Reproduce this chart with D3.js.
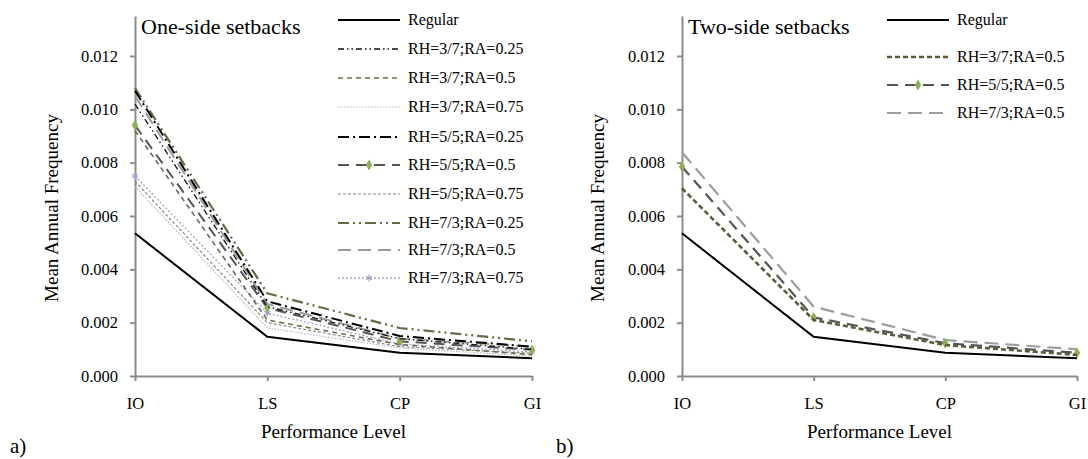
<!DOCTYPE html>
<html>
<head>
<meta charset="utf-8">
<script src="https://cdn.jsdelivr.net/npm/d3@7"></script>
<style>
  body { margin: 0; background: #fff; }
  svg text { font-family: "Liberation Serif", "Times New Roman", serif !important; fill: #000; }
  .axis path, .axis line { stroke: #8c8c8c; stroke-width: 2; }
  .axis text { font-size: 16.5px; }
</style>
</head>
<body>
<svg id="chart" width="1088" height="459" font-family="Liberation Serif"></svg>
<script>
var levels = ['IO', 'LS', 'CP', 'GI'];
var yTicks = [0, 0.002, 0.004, 0.006, 0.008, 0.010, 0.012];

// one-side setbacks (panel a)
var oneNames = ['Regular', 'RH=3/7;RA=0.25', 'RH=3/7;RA=0.5', 'RH=3/7;RA=0.75',
  'RH=5/5;RA=0.25', 'RH=5/5;RA=0.5', 'RH=5/5;RA=0.75',
  'RH=7/3;RA=0.25', 'RH=7/3;RA=0.5', 'RH=7/3;RA=0.75'];
var oneRegular = [0.00535, 0.00147, 0.00087, 0.00067];
var one37a = [0.0102, 0.0026, 0.0014, 0.0010];
var one37b = [0.0092, 0.0021, 0.00118, 0.0008];
var one37c = [0.0071, 0.0018, 0.00105, 0.00075];
var one55a = [0.0107, 0.0028, 0.0015, 0.0011];
var one55b = [0.0094, 0.00255, 0.0013, 0.00098];
var one55c = [0.0073, 0.0020, 0.0011, 0.00085];
var one73a = [0.0108, 0.0031, 0.0018, 0.0013];
var one73b = [0.0105, 0.0027, 0.0014, 0.0011];
var one73c = [0.0075, 0.00236, 0.0012, 0.0009];

// two-side setbacks (panel b)
var twoNames = ['Regular', 'RH=3/7;RA=0.5', 'RH=5/5;RA=0.5', 'RH=7/3;RA=0.5'];
var twoRegular = [0.00535, 0.00147, 0.00087, 0.00067];
var two37 = [0.00704, 0.0021, 0.00116, 0.00079];
var two55 = [0.00785, 0.0022, 0.00123, 0.00087];
var two73 = [0.00839, 0.0026, 0.00135, 0.0010];

// line styles
var styles = {
  'reg':  { color: '#000', w: 2, dash: null },
  '37a':  { color: '#111', w: 1.3, dash: '6,3,1.5,3,1.5,3' },
  '37b':  { color: '#6e6b4f', w: 1.6, dash: '5,4' },
  '37c':  { color: '#b8b8b8', w: 1.2, dash: '1.5,1.5' },
  '55a':  { color: '#000', w: 2, dash: '11,4,2,4' },
  '55b':  { color: '#555', w: 2, dash: '11,7', marker: 'diamond' },
  '55c':  { color: '#8a8a8a', w: 1.2, dash: '3,2' },
  '73a':  { color: '#6b6646', w: 2.2, dash: '11,4,2,4,2,4' },
  '73b':  { color: '#9a9a9a', w: 2, dash: '13,7' },
  '73c':  { color: '#a8a2c8', w: 1.3, dash: '2,2', marker: 'star' },
  't37':  { color: '#5e5a3c', w: 2.6, dash: '5,3' },
  't55':  { color: '#555', w: 2.2, dash: '11,7', marker: 'diamond' },
  't73':  { color: '#9c9c9c', w: 2.2, dash: '14,7' }
};

var oneSeries = [
  [oneRegular, 'reg'], [one37a, '37a'], [one37b, '37b'], [one37c, '37c'],
  [one55a, '55a'], [one55b, '55b'], [one55c, '55c'],
  [one73a, '73a'], [one73b, '73b'], [one73c, '73c']
];
var twoSeries = [[twoRegular, 'reg'], [two37, 't37'], [two55, 't55'], [two73, 't73']];

var svg = d3.select('#chart');

function marker(g, kind, x, y) {
  if (kind === 'diamond') {
    g.append('path')
      .attr('d', d3.symbol().type(d3.symbolDiamond).size(34)())
      .attr('transform', 'translate(' + x + ',' + y + ')')
      .attr('fill', '#8fae5a');
  } else if (kind === 'star') {
    g.append('path')
      .attr('d', d3.symbol().type(d3.symbolAsterisk).size(36)())
      .attr('transform', 'translate(' + x + ',' + y + ')')
      .attr('fill', 'none')
      .attr('stroke', '#a8a2c8').attr('stroke-width', 1.2);
  }
}

function panel(opt) {
  var x = d3.scalePoint().domain(levels).range([opt.x0, opt.x1]);
  var y = d3.scaleLinear().domain([0, 0.0135]).range([376, 16]);
  var g = svg.append('g');

  g.append('g').attr('class', 'axis')
    .attr('transform', 'translate(' + opt.x0 + ',0)')
    .call(d3.axisLeft(y).tickValues(yTicks).tickFormat(d3.format('.3f')).tickSize(5).tickSizeOuter(0).tickPadding(12));

  g.append('g').attr('class', 'axis')
    .attr('transform', 'translate(0,376)')
    .call(d3.axisBottom(x).tickSize(5).tickSizeOuter(0).tickPadding(16));

  var line = d3.line().x((d, i) => x(levels[i])).y(d => y(d));

  // reverse so first legend item ends up on top
  opt.series.slice().reverse().forEach(function (s) {
    var st = styles[s[1]];
    g.append('path')
      .attr('d', line(s[0]))
      .attr('fill', 'none')
      .attr('stroke', st.color)
      .attr('stroke-width', st.w)
      .attr('stroke-dasharray', st.dash);
    if (st.marker) {
      s[0].forEach((v, i) => marker(g, st.marker, x(levels[i]), y(v)));
    }
  });

  // title
  g.append('text').attr('x', opt.x0 + 6).attr('y', 34)
    .style('font-size', '22px').text(opt.title);

  // legend
  opt.series.forEach(function (s, i) {
    var st = styles[s[1]];
    var ly = opt.legY[i];
    g.append('line')
      .attr('x1', opt.legX).attr('x2', opt.legX + 62)
      .attr('y1', ly).attr('y2', ly)
      .attr('stroke', st.color).attr('stroke-width', st.w)
      .attr('stroke-dasharray', st.dash);
    if (st.marker) marker(g, st.marker, opt.legX + 31, ly);
    g.append('text').attr('x', opt.legX + 70).attr('y', ly + 5)
      .style('font-size', '16px').text(opt.names[i]);
  });

  // axis titles
  g.append('text')
    .attr('transform', 'translate(' + opt.yLabX + ',208) rotate(-90)')
    .attr('text-anchor', 'middle')
    .style('font-size', '19px')
    .text('Mean Annual Frequency');

  g.append('text')
    .attr('x', (opt.x0 + opt.x1) / 2).attr('y', 438)
    .attr('text-anchor', 'middle')
    .style('font-size', '19px')
    .text('Performance Level');

  g.append('text').attr('x', opt.tagX).attr('y', 453)
    .style('font-size', '21px').text(opt.tag);
}

panel({
  x0: 135, x1: 532, series: oneSeries, names: oneNames,
  title: 'One-side setbacks', legX: 338,
  legY: [20, 49, 78, 107, 137, 165, 194, 223, 250, 278],
  yLabX: 58, tag: 'a)', tagX: 10
});

panel({
  x0: 682, x1: 1077, series: twoSeries, names: twoNames,
  title: 'Two-side setbacks', legX: 887,
  legY: [20, 57, 85, 113],
  yLabX: 604, tag: 'b)', tagX: 556
});
</script>
</body>
</html>
